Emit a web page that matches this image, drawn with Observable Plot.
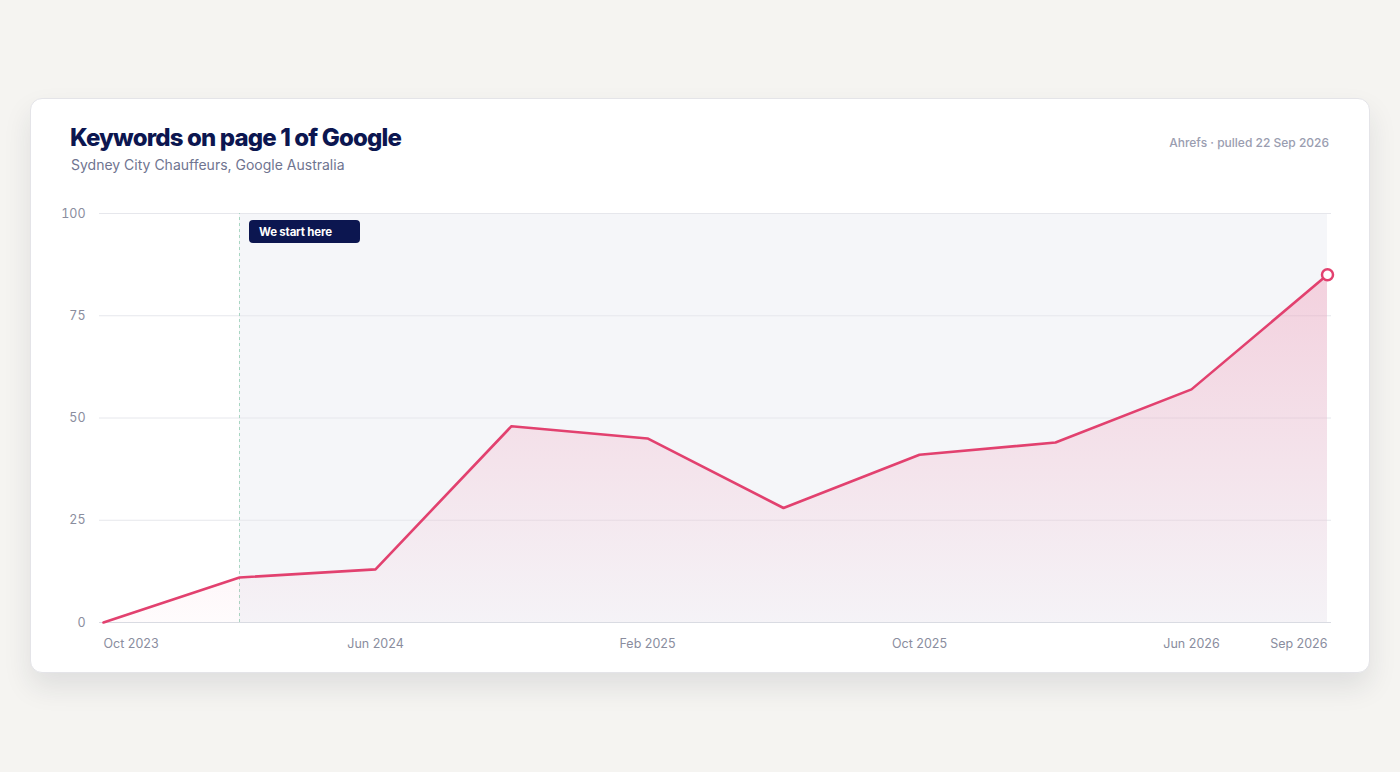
<!DOCTYPE html>
<html>
<head>
<meta charset="utf-8">
<script src="https://cdn.jsdelivr.net/npm/d3@7"></script>
<script src="https://cdn.jsdelivr.net/npm/@observablehq/plot@0.6"></script>
<style>
  html, body { margin: 0; padding: 0; background: #f5f4f1; font-family: Inter, "Noto Sans", sans-serif; }
  body { width: 1400px; height: 772px; position: relative; overflow: hidden; }
  .card {
    position: absolute; left: 30px; top: 98px; width: 1340px; height: 575px;
    background: #fff; border: 1px solid #e4e4e8; border-radius: 12px; box-sizing: border-box;
    box-shadow: 0 14px 28px rgba(30, 35, 60, 0.10);
  }
  .title { position: absolute; left: 39px; top: 24px; font-size: 24px; font-weight: 800; color: #0c1650; letter-spacing: -0.85px; }
  .subtitle { position: absolute; left: 40px; top: 57px; font-size: 14px; color: #6f7490; }
  .source { position: absolute; right: 40px; top: 36px; font-size: 12px; font-weight: 500; color: #9a9db0; }
  #chart { position: absolute; left: -1px; top: 93px; width: 1340px; }
  #chart svg { max-width: none !important; }
</style>
</head>
<body>
<div class="card">
  <div class="title">Keywords on page 1 of Google</div>
  <div class="subtitle">Sydney City Chauffeurs, Google Australia</div>
  <div class="source">Ahrefs · pulled 22 Sep 2026</div>
  <div id="chart"></div>
</div>
<script>
const months = ["Oct 2023","Feb 2024","Jun 2024","Oct 2024","Feb 2025","Jun 2025","Oct 2025","Feb 2026","Jun 2026","Sep 2026"];
const keywords = [0, 11, 13, 48, 45, 28, 41, 44, 57, 85];
const yTicks = [0, 25, 50, 75, 100];
const xTicksFirst = ["Oct 2023"];
const xTicksMiddle = ["Jun 2024","Feb 2025","Oct 2025","Jun 2026"];
const xTicksLast = ["Sep 2026"];
const startMonth = "Feb 2024";
const startLabel = "We start here";

const data = months.map((m, i) => ({month: m, value: keywords[i]}));
const shaded = months.slice(months.indexOf(startMonth)).map(m => ({month: m}));
const lineColor = "#e2416f";
const tickFont = {fontSize: 12.5, fill: "#8a8d9e"};

const plot = Plot.plot({
  width: 1340,
  height: 483,
  marginLeft: 69,
  marginRight: 39,
  marginTop: 21,
  marginBottom: 53,
  style: {fontFamily: "Inter, 'Noto Sans', sans-serif", background: "transparent", overflow: "visible"},
  x: {type: "point", domain: months, padding: 0},
  y: {domain: [0, 100]},
  marks: [
    Plot.areaY(shaded, {x: "month", y1: 0, y2: 100, fill: "#f5f6f9"}),
    Plot.gridY(yTicks, {stroke: "#e6e7ec", strokeOpacity: 1, strokeWidth: 1}),
    Plot.ruleY([0], {stroke: "#d9dbe2", strokeWidth: 1}),
    Plot.ruleX([startMonth], {y1: 0, y2: 100, stroke: "#a9d6c2", strokeWidth: 1, strokeDasharray: "3,3"}),
    Plot.areaY(data, {x: "month", y: "value", fill: "url(#pinkGrad)"}),
    Plot.lineY(data, {x: "month", y: "value", stroke: lineColor, strokeWidth: 2.6, strokeLinejoin: "round"}),
    Plot.dot(data.slice(-1), {x: "month", y: "value", r: 5.5, fill: "#fff", stroke: lineColor, strokeWidth: 2.5}),
    Plot.axisY(yTicks, {tickSize: 0, tickPadding: 14, ...tickFont, label: null}),
    Plot.axisX(xTicksFirst, {tickSize: 0, tickPadding: 17, textAnchor: "start", ...tickFont, label: null}),
    Plot.axisX(xTicksMiddle, {tickSize: 0, tickPadding: 17, ...tickFont, label: null}),
    Plot.axisX(xTicksLast, {tickSize: 0, tickPadding: 17, textAnchor: "end", ...tickFont, label: null})
  ]
});

// gradient definition
const svg = d3.select(plot);
const defs = svg.insert("defs", ":first-child");
const grad = defs.append("linearGradient").attr("id", "pinkGrad").attr("x1", 0).attr("y1", 0).attr("x2", 0).attr("y2", 1);
grad.append("stop").attr("offset", "0%").attr("stop-color", "#ec4d7e").attr("stop-opacity", 0.22);
grad.append("stop").attr("offset", "100%").attr("stop-color", "#ec4d7e").attr("stop-opacity", 0.02);

// "We start here" badge placed through the scales
const xs = plot.scale("x"), ys = plot.scale("y");
const bx = xs.apply(startMonth) + 10;
const by = ys.apply(100) + 7;
const badge = svg.append("g").attr("text-anchor", "start");
badge.append("rect").attr("x", bx).attr("y", by).attr("width", 111).attr("height", 23).attr("rx", 4).attr("fill", "#0c1650");
badge.append("text").attr("x", bx + 10).attr("y", by + 15.5).attr("fill", "#fff").attr("text-anchor", "start")
  .attr("font-size", 11.5).attr("font-weight", 700).attr("letter-spacing", "-0.2px").text(startLabel);

document.getElementById("chart").appendChild(plot);
</script>
</body>
</html>
